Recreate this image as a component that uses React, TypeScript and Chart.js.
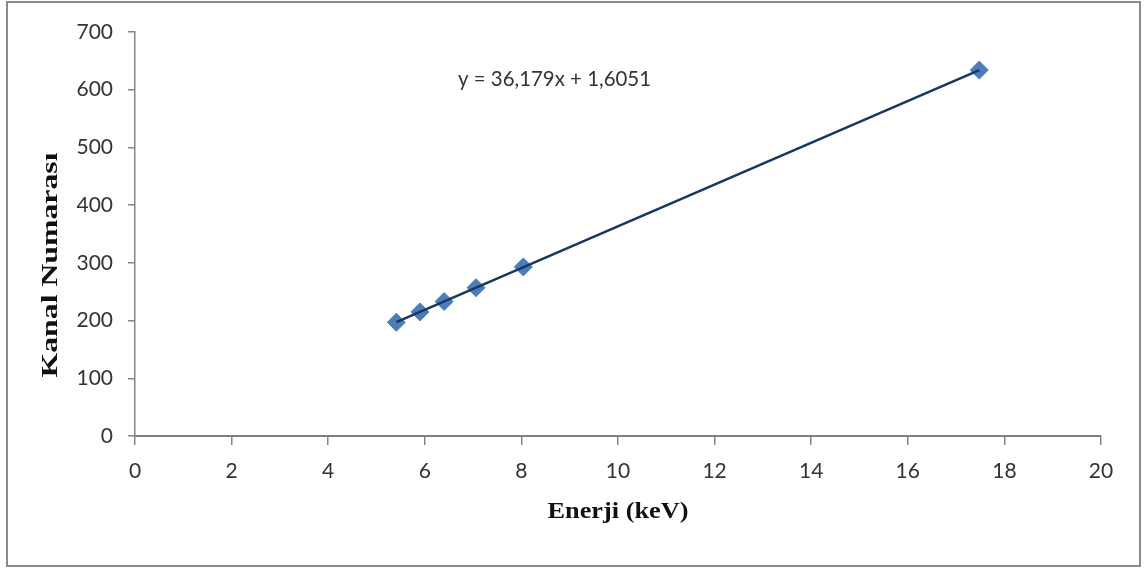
import React, { useEffect, useRef } from "react";
import { Chart, registerables } from "chart.js";

Chart.register(...registerables);

// Data
const energies = [5.41, 5.9, 6.4, 7.06, 8.04, 17.48]; // keV
const channels = [197, 215, 233, 257, 293, 634]; // Kanal Numarası
const xTicks = [0, 2, 4, 6, 8, 10, 12, 14, 16, 18, 20];
const yTicks = [0, 100, 200, 300, 400, 500, 600, 700];
const slope = 36.179;
const intercept = 1.6051;
const equationLabel = "y = 36,179x + 1,6051";
const xTitle = "Enerji (keV)";
const yTitle = "Kanal Numarası";

const tickFamily = "Lato, 'Open Sans', sans-serif";
const tickFont = { family: tickFamily, size: 21 };
const titleFontFamily = "'Liberation Serif', 'Times New Roman', serif";

export default function App() {
  const ref = useRef<HTMLCanvasElement | null>(null);

  useEffect(() => {
    if (!ref.current) return;
    const xMin = Math.min(...energies);
    const xMax = Math.max(...energies);
    const trend = [
      { x: xMin, y: slope * xMin + intercept },
      { x: xMax, y: slope * xMax + intercept },
    ];
    const points = energies.map((e, i) => ({ x: e, y: channels[i] }));

    const drawStretched = (
      ctx: CanvasRenderingContext2D,
      text: string,
      cx: number,
      cy: number,
      targetWidth: number,
      rotate: boolean
    ) => {
      ctx.save();
      ctx.fillStyle = "#111111";
      ctx.font = `bold 24px ${titleFontFamily}`;
      ctx.textAlign = "center";
      ctx.textBaseline = "middle";
      const w = ctx.measureText(text).width || 1;
      ctx.translate(cx, cy);
      if (rotate) ctx.rotate(-Math.PI / 2);
      ctx.scale(targetWidth / w, 1);
      ctx.fillText(text, 0, 0);
      ctx.restore();
    };

    const textPlugin = {
      id: "extraText",
      afterDraw(chart: any) {
        const { ctx } = chart;
        ctx.save();
        ctx.fillStyle = "#333333";
        ctx.font = `21px ${tickFamily}`;
        ctx.textBaseline = "middle";
        ctx.textAlign = "left";
        const w = ctx.measureText(equationLabel).width || 1;
        ctx.translate(458, 79);
        ctx.scale(193 / w, 1);
        ctx.fillText(equationLabel, 0, 0);
        ctx.restore();

        drawStretched(ctx, yTitle, 51, 265, 225, true);
        drawStretched(ctx, xTitle, 618, 512, 141, false);
      },
    };

    const chart = new Chart(ref.current, {
      type: "scatter",
      data: {
        datasets: [
          {
            type: "line",
            label: "Trend",
            data: trend,
            borderColor: "#17375E",
            borderWidth: 2.5,
            pointRadius: 0,
            fill: false,
            order: 0,
          } as any,
          {
            type: "scatter",
            label: "Ölçüm",
            data: points,
            pointStyle: "rectRot",
            pointRadius: 9,
            backgroundColor: "#4A7EBB",
            borderColor: "#4A7EBB",
            borderWidth: 1,
            order: 1,
          },
        ],
      },
      options: {
        animation: false,
        responsive: false,
        layout: { padding: { top: 32, right: 46, left: 0, bottom: 0 } },
        plugins: {
          legend: { display: false },
          tooltip: { enabled: false },
        },
        scales: {
          x: {
            type: "linear",
            min: 0,
            max: 20,
            afterBuildTicks: (s: any) => {
              s.ticks = xTicks.map((v) => ({ value: v }));
            },
            afterFit: (s: any) => {
              s.height = 134;
            },
            grid: {
              drawOnChartArea: false,
              drawTicks: true,
              tickLength: 9,
              color: "#868686",
              lineWidth: 1.5,
            },
            border: { color: "#7f7f7f", width: 2 },
            ticks: {
              font: tickFont,
              color: "#333333",
              padding: 14,
              maxRotation: 0,
            },
          },
          y: {
            type: "linear",
            min: 0,
            max: 700,
            afterBuildTicks: (s: any) => {
              s.ticks = yTicks.map((v) => ({ value: v }));
            },
            afterFit: (s: any) => {
              s.width = 135;
            },
            grid: {
              drawOnChartArea: false,
              drawTicks: true,
              tickLength: 7,
              color: "#868686",
              lineWidth: 1.5,
            },
            border: { color: "#868686", width: 1.5 },
            ticks: {
              font: tickFont,
              color: "#333333",
              padding: 15,
            },
          },
        },
      },
      plugins: [textPlugin],
    });
    return () => chart.destroy();
  }, []);

  return (
    <div
      style={{
        position: "absolute",
        left: 0,
        top: 0,
        width: 1147,
        height: 570,
        background: "#ffffff",
      }}
    >
      <div
        style={{
          position: "absolute",
          left: 6,
          top: 1,
          width: 1131,
          height: 562,
          border: "2px solid #8a8a8a",
        }}
      />
      <canvas
        ref={ref}
        width={1147}
        height={570}
        style={{ position: "absolute", left: 0, top: 0 }}
      />
    </div>
  );
}
